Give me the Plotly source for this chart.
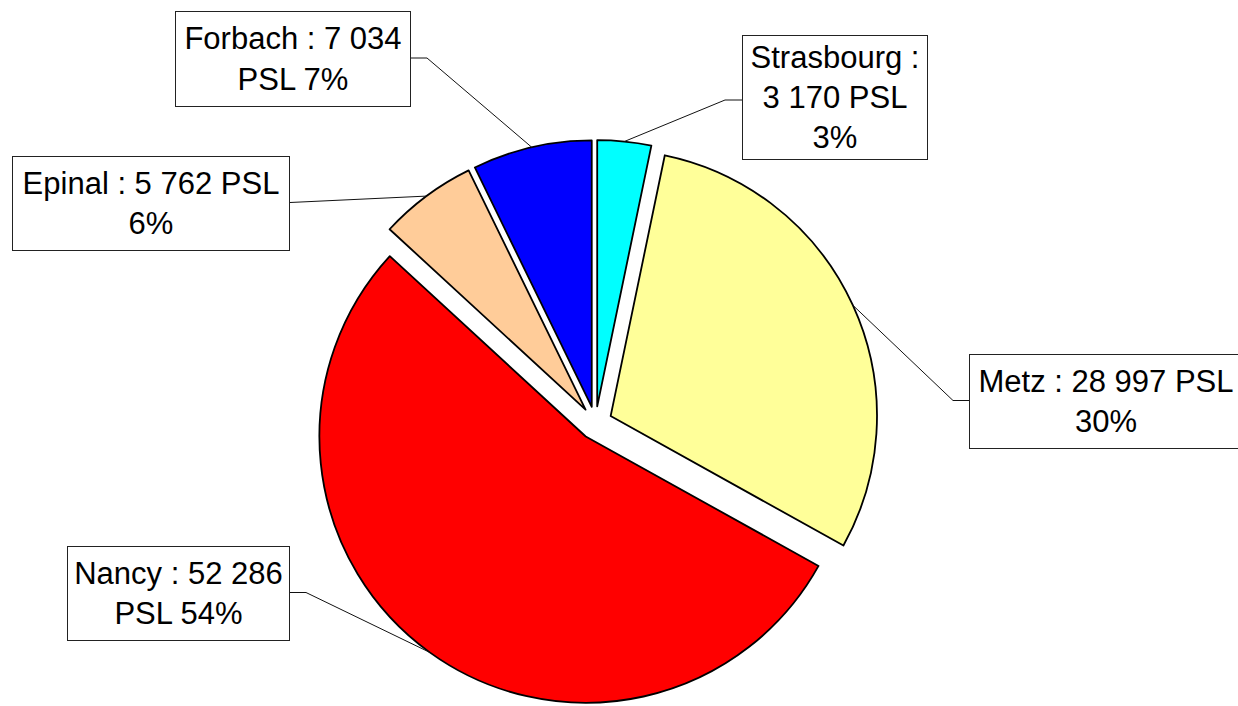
import math
import plotly.graph_objects as go

# ---- data ----
cities = ["Strasbourg", "Metz", "Nancy", "Epinal", "Forbach"]
values = [3170, 28997, 52286, 5762, 7034]
colors = ["#00FFFF", "#FFFF99", "#FF0000", "#FFCC99", "#0000FF"]
label_templates = [
    "{c} :<br>{v} PSL<br>{p}%",
    "{c} : {v} PSL<br>{p}%",
    "{c} : {v}<br>PSL {p}%",
    "{c} : {v} PSL<br>{p}%",
    "{c} : {v}<br>PSL {p}%",
]

# ---- layout settings ----
W, H = 1238, 706
PULL = 0.0625
CX_PX, CY_PX = 595.5, 423.0
DOM_Y = [0.0, 2 * (1 - CY_PX / H)]
HALF_W = 0.3
DOM_X = [CX_PX / W - HALF_W, CX_PX / W + HALF_W]
FONT = "Liberation Sans, Arial, sans-serif"

# label boxes (pixel centre, size) and leader attachment
box_cx = [835, 1106, 178.5, 151, 293]
box_cy = [97.5, 401.5, 593.5, 203.5, 59]
box_w = [186, 274, 223, 278, 236]
box_h = [125, 95, 95, 95, 96]
attach_side = ["left", "left", "right", "right", "right"]
attach_dy = [2.5, -1, -1, -1, -1]
elbow = [17, 16, 16, 0, 16]


def fmt(v):
    return f"{v:,}".replace(",", " ")


total = sum(values)

fig = go.Figure(go.Pie(
    labels=cities,
    values=values,
    sort=False,
    direction="clockwise",
    rotation=0,
    pull=[PULL] * len(values),
    marker=dict(colors=colors, line=dict(color="black", width=1.8)),
    textinfo="none",
    hoverinfo="label+value+percent",
    showlegend=False,
    domain=dict(x=DOM_X, y=DOM_Y),
))

# geometry following plotly's pie scaling
box_wd = W * (DOM_X[1] - DOM_X[0])
box_ht = H * (DOM_Y[1] - DOM_Y[0])
r = min(box_wd / 2, box_ht / 2) / (1 + PULL)
cx = W * (DOM_X[0] + DOM_X[1]) / 2
cy = H * (1 - DOM_Y[0]) - box_ht / 2


def px(x):
    return x / W


def py(y):
    return 1 - y / H


annotations = []
shapes = []
cum = 0.0
for i, (c, v) in enumerate(zip(cities, values)):
    frac = v / total
    mid = (cum + frac / 2) * 2 * math.pi
    cum += frac
    ex = cx + r * (1 + PULL) * math.sin(mid)
    ey = cy - r * (1 + PULL) * math.cos(mid)

    text = label_templates[i].format(c=c, v=fmt(v), p=round(frac * 100))
    annotations.append(dict(
        x=px(box_cx[i]), y=py(box_cy[i]), xref="paper", yref="paper",
        xanchor="center", yanchor="middle", showarrow=False,
        text=text, align="center",
        font=dict(family=FONT, size=31, color="black"),
        bgcolor="white", bordercolor="#222", borderwidth=1, borderpad=0,
        width=box_w[i] - 2, height=box_h[i] - 2,
    ))

    sx = box_cx[i] + (box_w[i] / 2 if attach_side[i] == "right" else -box_w[i] / 2)
    sy = box_cy[i] + attach_dy[i]
    kx = sx + (elbow[i] if attach_side[i] == "right" else -elbow[i])
    path = f"M {px(sx)} {py(sy)} L {px(kx)} {py(sy)} L {px(ex)} {py(ey)}"
    shapes.append(dict(type="path", xref="paper", yref="paper", path=path,
                       line=dict(color="#111", width=1)))

fig.update_layout(
    width=W, height=H,
    margin=dict(l=0, r=0, t=0, b=0, pad=0),
    paper_bgcolor="white", plot_bgcolor="white",
    annotations=annotations, shapes=shapes,
)

fig.write_html("out.html",
               config={"displayModeBar": False},
               post_script="document.body.style.margin='0';")
